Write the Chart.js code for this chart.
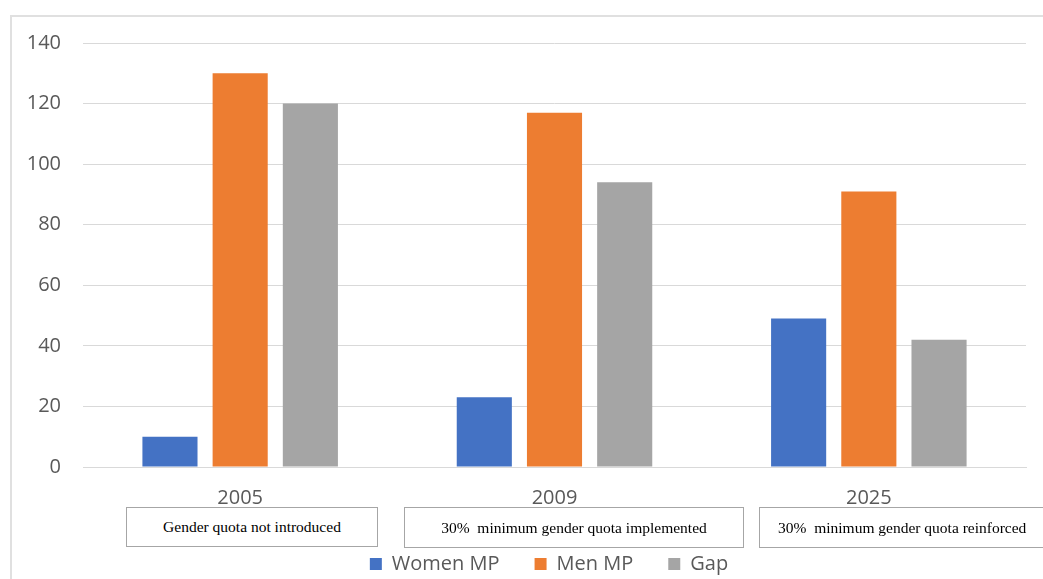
<!DOCTYPE html>
<html>
<head>
<meta charset="utf-8">
<script src="https://cdn.jsdelivr.net/npm/chart.js@4.4.1/dist/chart.umd.min.js"></script>
<style>
  html, body { margin: 0; padding: 0; background: #fff; }
  #wrap { position: relative; width: 1043px; height: 579px; overflow: hidden; }
  #frame { position: absolute; left: 10px; top: 15px; width: 1100px; height: 700px; border: 2px solid #e0e0e0; box-sizing: border-box; }
  canvas { position: absolute; left: 0; top: 0; }
  .note { position: absolute; border: 1px solid #a6a6a6; background: #fff; box-sizing: border-box;
          font-family: "Liberation Serif", "Times New Roman", serif; font-size: 15.5px; color: #000;
          display: flex; align-items: center; justify-content: center; white-space: pre; }
</style>
</head>
<body>
<div id="wrap">
  <div id="frame"></div>
  <canvas id="c" width="1043" height="579"></canvas>
</div>
<script>
const categories = ["2005", "2009", "2025"];
const womenMP = [10, 23, 49];
const menMP = [130, 117, 91];
const gap = [120, 94, 42];
const seriesNames = ["Women MP", "Men MP", "Gap"];
const notes = ["Gender quota not introduced", "30%  minimum gender quota implemented", "30%  minimum gender quota reinforced"];
const yTicks = [0, 20, 40, 60, 80, 100, 120, 140];

const notePos = [
  {left: 126, top: 507, width: 252, height: 40},
  {left: 404, top: 507, width: 340, height: 41},
  {left: 759, top: 507, width: 290, height: 41}
];
const wrap = document.getElementById('wrap');
notes.forEach((t, i) => {
  const d = document.createElement('div');
  d.className = 'note';
  d.textContent = t;
  const p = notePos[i];
  d.style.left = p.left + 'px'; d.style.top = p.top + 'px';
  d.style.width = p.width + 'px'; d.style.height = p.height + 'px';
  if (i === 2) { d.style.justifyContent = 'flex-start'; d.style.paddingLeft = '18px'; }
  wrap.appendChild(d);
});

const FONT = "'Open Sans', 'Liberation Sans', Arial, sans-serif";
const legendShift = {
  id: 'legendShift',
  afterLayout(chart) {
    const lg = chart.legend;
    if (!lg) return;
    lg.top += 9; lg.bottom += 9;
    lg.left += 36; lg.right += 36;
  }
};
new Chart(document.getElementById('c'), {
  type: 'bar',
  data: {
    labels: categories,
    datasets: [
      { label: seriesNames[0], data: womenMP, backgroundColor: '#4472C4' },
      { label: seriesNames[1], data: menMP, backgroundColor: '#ED7D31' },
      { label: seriesNames[2], data: gap, backgroundColor: '#A5A5A5' }
    ]
  },
  plugins: [legendShift],
  options: {
    responsive: false,
    animation: false,
    devicePixelRatio: 1,
    layout: { padding: { top: 43, left: 0, right: 17, bottom: 4 } },
    datasets: { bar: { categoryPercentage: 0.67, barPercentage: 0.785 } },
    plugins: {
      tooltip: { enabled: false },
      legend: {
        position: 'bottom',
        labels: {
          font: { family: FONT, size: 20 },
          color: '#595959',
          boxWidth: 12, boxHeight: 12,
          padding: 35
        }
      }
    },
    scales: {
      x: {
        grid: { display: false, drawTicks: false },
        border: { display: true, color: '#d9d9d9', width: 1 },
        ticks: { font: { family: FONT, size: 20 }, color: '#595959', padding: 19 },
        afterFit(scale) {
          const lg = scale.chart.legend;
          const lh = lg && lg.height ? lg.height : 0;
          scale.height = 579 - 467 - 4 - lh;
        }
      },
      y: {
        min: 0, max: 140,
        afterBuildTicks(scale) { scale.ticks = yTicks.map(v => ({ value: v })); },
        grid: { color: '#d9d9d9', lineWidth: 1, drawTicks: false },
        border: { display: false },
        ticks: { font: { family: FONT, size: 20 }, color: '#595959', padding: 22 },
        afterFit(scale) { scale.width = 83; }
      }
    }
  }
});
</script>
</body>
</html>
